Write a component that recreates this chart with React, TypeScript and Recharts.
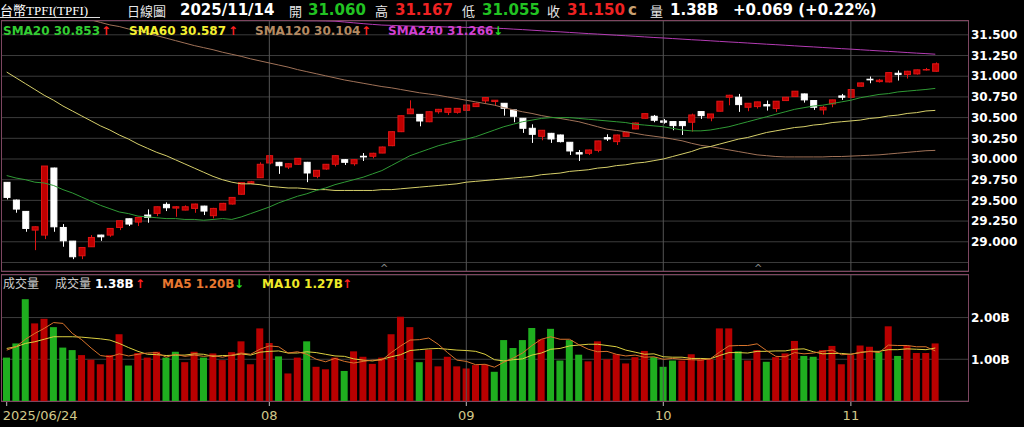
import { ComposedChart, Bar, Line, XAxis, YAxis, CartesianGrid, ReferenceLine } from 'recharts';

// daily bars 2025/06/24 .. 2025/11/14
const opens = [
  29.718, 29.504, 29.367, 29.141, 29.081, 29.891, 29.173, 29.008, 28.831, 28.94,
  29.081, 29.081, 29.173, 29.278, 29.238, 29.323, 29.343, 29.452, 29.407, 29.383,
  29.403, 29.431, 29.315, 29.383, 29.456, 29.574, 29.705, 29.774, 29.952, 29.96,
  29.903, 29.936, 29.96, 29.791, 29.879, 29.936, 29.992, 29.943, 30.033, 30.033,
  30.072, 30.161, 30.33, 30.547, 30.539, 30.45, 30.571, 30.564, 30.564, 30.588,
  30.633, 30.702, 30.694, 30.673, 30.593, 30.492, 30.371, 30.274, 30.31, 30.29,
  30.202, 30.077, 30.069, 30.105, 30.258, 30.21, 30.274, 30.363, 30.492, 30.516,
  30.46, 30.452, 30.452, 30.444, 30.573, 30.496, 30.577, 30.746, 30.746, 30.625,
  30.633, 30.657, 30.609, 30.706, 30.754, 30.786, 30.706, 30.593, 30.665, 30.762,
  30.746, 30.879, 30.964, 30.935, 30.931, 31.036, 31.02, 31.028, 31.077, 31.06,
];
const highs = [
  29.72, 29.51, 29.37, 29.185, 29.915, 29.895, 29.214, 29.01, 28.935, 29.081,
  29.085, 29.165, 29.26, 29.28, 29.3, 29.391, 29.425, 29.476, 29.431, 29.44,
  29.46, 29.435, 29.41, 29.47, 29.54, 29.714, 29.735, 29.96, 30.045, 29.965,
  29.95, 30.01, 29.965, 29.865, 29.94, 30.045, 30.0, 29.995, 30.072, 30.075,
  30.15, 30.335, 30.525, 30.709, 30.54, 30.575, 30.605, 30.615, 30.615, 30.655,
  30.68, 30.745, 30.712, 30.675, 30.595, 30.495, 30.419, 30.35, 30.315, 30.295,
  30.205, 30.109, 30.112, 30.22, 30.298, 30.295, 30.325, 30.44, 30.55, 30.532,
  30.484, 30.455, 30.455, 30.548, 30.575, 30.545, 30.7, 30.775, 30.786, 30.675,
  30.692, 30.706, 30.7, 30.75, 30.82, 30.79, 30.71, 30.641, 30.716, 30.786,
  30.84, 30.922, 30.996, 30.968, 31.048, 31.069, 31.065, 31.08, 31.1, 31.167,
];
const lows = [
  29.512, 29.351, 29.121, 28.899, 29.032, 29.121, 28.94, 28.79, 28.79, 28.94,
  29.012, 29.06, 29.141, 29.19, 29.19, 29.23, 29.31, 29.371, 29.302, 29.38,
  29.35, 29.323, 29.282, 29.38, 29.45, 29.57, 29.7, 29.77, 29.936, 29.82,
  29.879, 29.93, 29.72, 29.767, 29.87, 29.91, 29.928, 29.919, 29.976, 30.008,
  30.07, 30.155, 30.325, 30.545, 30.395, 30.445, 30.547, 30.531, 30.547, 30.585,
  30.63, 30.669, 30.645, 30.524, 30.444, 30.315, 30.194, 30.226, 30.194, 30.2,
  30.048, 29.976, 30.048, 30.081, 30.218, 30.169, 30.27, 30.36, 30.49, 30.444,
  30.427, 30.347, 30.29, 30.331, 30.484, 30.456, 30.575, 30.649, 30.569, 30.577,
  30.609, 30.585, 30.569, 30.7, 30.75, 30.681, 30.593, 30.536, 30.625, 30.714,
  30.74, 30.875, 30.915, 30.923, 30.925, 30.948, 30.972, 31.02, 31.069, 31.055,
];
const closes = [
  29.536, 29.395, 29.161, 29.181, 29.915, 29.181, 29.012, 28.819, 28.931, 29.052,
  29.06, 29.161, 29.254, 29.214, 29.294, 29.294, 29.423, 29.411, 29.423, 29.423,
  29.456, 29.371, 29.403, 29.464, 29.536, 29.714, 29.725, 29.936, 30.04, 29.919,
  29.943, 30.008, 29.831, 29.863, 29.936, 30.04, 29.96, 29.992, 30.025, 30.069,
  30.145, 30.33, 30.523, 30.604, 30.459, 30.571, 30.6, 30.612, 30.612, 30.652,
  30.673, 30.742, 30.71, 30.613, 30.516, 30.371, 30.298, 30.347, 30.242, 30.21,
  30.097, 30.06, 30.109, 30.218, 30.242, 30.29, 30.323, 30.435, 30.548, 30.468,
  30.444, 30.403, 30.403, 30.532, 30.524, 30.544, 30.698, 30.77, 30.657, 30.673,
  30.69, 30.641, 30.698, 30.746, 30.819, 30.714, 30.625, 30.625, 30.714, 30.746,
  30.839, 30.919, 30.956, 30.952, 31.044, 31.02, 31.06, 31.077, 31.081, 31.15,
];

const sma20 = [
  29.80, 29.77, 29.75, 29.72, 29.71, 29.68, 29.63, 29.59, 29.54, 29.49,
  29.44, 29.40, 29.36, 29.34, 29.31, 29.30, 29.29, 29.28, 29.28, 29.27,
  29.27, 29.26, 29.27, 29.28, 29.27, 29.30, 29.34, 29.38, 29.42, 29.47,
  29.51, 29.55, 29.58, 29.62, 29.65, 29.69, 29.72, 29.75, 29.78, 29.82,
  29.86, 29.92, 29.98, 30.04, 30.08, 30.12, 30.16, 30.19, 30.22, 30.24,
  30.27, 30.31, 30.35, 30.39, 30.42, 30.45, 30.47, 30.49, 30.50, 30.50,
  30.50, 30.49, 30.48, 30.47, 30.46, 30.45, 30.44, 30.42, 30.41, 30.40,
  30.39, 30.37, 30.35, 30.34, 30.34, 30.35, 30.37, 30.39, 30.42, 30.45,
  30.48, 30.51, 30.54, 30.57, 30.60, 30.62, 30.64, 30.65, 30.67, 30.69,
  30.71, 30.74, 30.76, 30.78, 30.79, 30.81, 30.82, 30.83, 30.84, 30.853,
];
const sma60 = [
  31.05, 30.98, 30.91, 30.84, 30.77, 30.71, 30.64, 30.58, 30.52, 30.46,
  30.40, 30.35, 30.29, 30.24, 30.18, 30.13, 30.08, 30.04, 29.99, 29.94,
  29.89, 29.84, 29.79, 29.75, 29.72, 29.70, 29.70, 29.69, 29.67, 29.66,
  29.65, 29.65, 29.64, 29.63, 29.63, 29.62, 29.62, 29.62, 29.62, 29.62,
  29.63, 29.63, 29.64, 29.65, 29.66, 29.67, 29.68, 29.69, 29.70, 29.72,
  29.73, 29.74, 29.75, 29.76, 29.77, 29.78, 29.79, 29.81, 29.82, 29.83,
  29.85, 29.86, 29.87, 29.89, 29.90, 29.92, 29.93, 29.95, 29.96, 29.98,
  30.00, 30.03, 30.06, 30.09, 30.13, 30.15, 30.18, 30.21, 30.24, 30.26,
  30.29, 30.32, 30.34, 30.36, 30.38, 30.39, 30.41, 30.42, 30.44, 30.45,
  30.46, 30.47, 30.49, 30.50, 30.52, 30.53, 30.55, 30.56, 30.58, 30.587,
];
const sma120 = [
  31.95, 31.92, 31.89, 31.86, 31.83, 31.80, 31.77, 31.74, 31.71, 31.68,
  31.65, 31.62, 31.60, 31.57, 31.55, 31.52, 31.49, 31.46, 31.43, 31.40,
  31.37, 31.345, 31.32, 31.29, 31.265, 31.24, 31.21, 31.185, 31.16, 31.135,
  31.11, 31.08, 31.055, 31.03, 31.005, 30.98, 30.955, 30.935, 30.915, 30.895,
  30.875, 30.86, 30.84, 30.82, 30.80, 30.785, 30.77, 30.75, 30.73, 30.71,
  30.69, 30.67, 30.65, 30.62, 30.595, 30.57, 30.55, 30.525, 30.505, 30.49,
  30.47, 30.45, 30.42, 30.39, 30.36, 30.345, 30.33, 30.31, 30.29, 30.275,
  30.26, 30.24, 30.22, 30.19, 30.165, 30.15, 30.13, 30.11, 30.09, 30.07,
  30.05, 30.04, 30.03, 30.025, 30.025, 30.025, 30.025, 30.025, 30.03, 30.03,
  30.035, 30.04, 30.045, 30.05, 30.06, 30.07, 30.08, 30.09, 30.10, 30.104,
];
const sma240 = [
  31.95, 31.94, 31.93, 31.92, 31.91, 31.90, 31.89, 31.88, 31.87, 31.86,
  31.85, 31.84, 31.83, 31.82, 31.81, 31.80, 31.79, 31.78, 31.77, 31.76,
  31.75, 31.74, 31.73, 31.72, 31.71, 31.70, 31.695, 31.69, 31.685, 31.68,
  31.68, 31.675, 31.67, 31.67, 31.668, 31.665, 31.655, 31.645, 31.635, 31.626,
  31.618, 31.614, 31.61, 31.606, 31.603, 31.60, 31.598, 31.595, 31.592, 31.59,
  31.587, 31.583, 31.58, 31.576, 31.569, 31.563, 31.556, 31.549, 31.542, 31.536,
  31.529, 31.522, 31.515, 31.509, 31.502, 31.495, 31.489, 31.482, 31.475, 31.468,
  31.462, 31.455, 31.448, 31.441, 31.435, 31.428, 31.421, 31.414, 31.408, 31.401,
  31.394, 31.387, 31.381, 31.374, 31.367, 31.36, 31.354, 31.347, 31.34, 31.333,
  31.327, 31.32, 31.313, 31.306, 31.30, 31.293, 31.286, 31.279, 31.273, 31.266,
];

// volume in billions, 1 = up day (red), 0 = down day (green)
const volumes = [
  1.04, 1.38, 2.44, 1.86, 1.97, 1.77, 1.28, 1.22, 1.10, 0.99,
  0.88, 1.10, 1.60, 0.85, 1.15, 1.04, 1.18, 1.04, 1.18, 0.93,
  1.18, 1.04, 1.14, 0.98, 1.17, 1.43, 0.88, 1.74, 1.39, 1.07,
  0.66, 1.04, 1.43, 0.82, 0.76, 1.04, 0.72, 1.19, 1.06, 0.89,
  1.04, 1.60, 2.02, 1.77, 0.93, 1.23, 0.83, 1.06, 0.83, 0.78,
  0.86, 0.87, 0.70, 1.46, 1.27, 1.46, 1.75, 1.48, 1.73, 0.97,
  1.46, 1.11, 0.95, 1.43, 1.00, 1.12, 0.90, 1.05, 1.20, 1.05,
  0.82, 0.97, 0.97, 1.12, 1.00, 1.00, 1.74, 1.74, 1.19, 0.97,
  1.22, 0.94, 1.05, 1.14, 1.44, 1.08, 1.06, 1.22, 1.32, 0.88,
  1.10, 1.33, 1.30, 1.17, 1.79, 1.08, 1.32, 1.15, 1.15, 1.38,
];
const volUp = [
  0, 0, 0, 1, 1, 0, 0, 0, 1, 1,
  1, 1, 1, 0, 1, 1, 1, 0, 0, 1,
  1, 0, 1, 1, 1, 1, 1, 1, 1, 0,
  1, 1, 0, 1, 1, 1, 0, 1, 1, 1,
  1, 1, 1, 1, 0, 1, 1, 1, 1, 1,
  1, 1, 0, 0, 0, 0, 0, 1, 0, 0,
  0, 0, 1, 1, 1, 1, 1, 1, 1, 0,
  0, 0, 1, 1, 1, 1, 1, 1, 0, 1,
  1, 0, 1, 1, 1, 0, 0, 1, 1, 1,
  1, 1, 1, 0, 1, 0, 1, 1, 1, 1,
];
const volMa5 = [
  1.22, 1.30, 1.48, 1.62, 1.74, 1.88, 1.86, 1.62, 1.47, 1.27,
  1.09, 1.06, 1.13, 1.08, 1.12, 1.15, 1.16, 1.05, 1.12, 1.07,
  1.10, 1.07, 1.09, 1.05, 1.10, 1.15, 1.12, 1.24, 1.32, 1.30,
  1.15, 1.18, 1.12, 1.00, 0.94, 1.02, 0.95, 0.91, 0.95, 0.98,
  0.98, 1.16, 1.32, 1.46, 1.47, 1.51, 1.36, 1.16, 0.98, 0.95,
  0.87, 0.88, 0.81, 0.93, 1.03, 1.15, 1.33, 1.48, 1.54, 1.48,
  1.48, 1.35, 1.24, 1.18, 1.19, 1.12, 1.08, 1.10, 1.05, 1.06,
  1.00, 1.02, 1.00, 0.99, 0.98, 1.01, 1.17, 1.32, 1.33, 1.33,
  1.37, 1.21, 1.07, 1.06, 1.16, 1.13, 1.15, 1.19, 1.22, 1.11,
  1.12, 1.17, 1.19, 1.16, 1.34, 1.33, 1.33, 1.30, 1.30, 1.20,
];
const volMa10 = [
  1.26, 1.30, 1.38, 1.42, 1.48, 1.54, 1.54, 1.54, 1.53, 1.51,
  1.49, 1.46, 1.38, 1.28, 1.19, 1.12, 1.11, 1.09, 1.10, 1.10,
  1.13, 1.12, 1.07, 1.09, 1.09, 1.13, 1.10, 1.17, 1.19, 1.20,
  1.15, 1.15, 1.18, 1.16, 1.12, 1.08, 1.07, 1.01, 0.98, 0.96,
  1.00, 1.06, 1.11, 1.21, 1.23, 1.25, 1.26, 1.24, 1.22, 1.21,
  1.19, 1.12, 0.99, 0.96, 0.99, 1.01, 1.10, 1.15, 1.24, 1.26,
  1.32, 1.34, 1.36, 1.36, 1.33, 1.30, 1.22, 1.17, 1.12, 1.13,
  1.06, 1.05, 1.05, 1.02, 1.02, 1.01, 1.09, 1.16, 1.16, 1.15,
  1.19, 1.19, 1.20, 1.20, 1.24, 1.25, 1.18, 1.13, 1.14, 1.14,
  1.12, 1.16, 1.19, 1.19, 1.23, 1.23, 1.25, 1.24, 1.23, 1.27,
];

const monthTicks = [0, 28, 49, 70, 90];
const monthLabels = ['2025/06/24', '08', '09', '10', '11'];
const priceTicks = [28.75, 29, 29.25, 29.5, 29.75, 30, 30.25, 30.5, 30.75, 31, 31.25, 31.5];
const volTicks = [1, 2];

const data = closes.map((c, i) => ({
  idx: i,
  range: [lows[i], highs[i]],
  open: opens[i],
  high: highs[i],
  low: lows[i],
  close: c,
  vol: volumes[i],
  up: volUp[i],
  sma20: sma20[i],
  sma60: sma60[i],
  sma120: sma120[i],
  sma240: sma240[i],
  ma5: volMa5[i],
  ma10: volMa10[i],
}));

const NUM_FONT = '"DejaVu Sans", Verdana, sans-serif';
const CJK_FONT = '"Noto Sans CJK TC", "DejaVu Sans", sans-serif';
const GRID = '#3c3c3c';
const BORDER = '#7d4660';

function Candle(props: any) {
  const { x, y, width, height, payload } = props;
  const { open, close, high, low } = payload;
  const span = high - low;
  const py = (v: number) => (span > 0 ? y + ((high - v) / span) * height : y);
  const up = close >= open;
  const top = py(Math.max(open, close));
  const bot = py(Math.min(open, close));
  const cx = Math.round(x + width / 2) + 0.5;
  const fill = up ? '#bf0000' : '#ffffff';
  const edge = up ? '#e01414' : '#ffffff';
  return (
    <g>
      <line x1={cx} x2={cx} y1={y} y2={y + height} stroke={edge} strokeWidth={1} />
      <rect x={x} y={top} width={width} height={Math.max(0.5, bot - top)} fill={fill} stroke={edge} strokeWidth={1} />
    </g>
  );
}

function VolBar(props: any) {
  const { x, y, width, height, payload } = props;
  return <rect x={x} y={y} width={width} height={height} fill={payload.up ? '#b80000' : '#1fae1f'} />;
}

function DateTick(props: any) {
  const { x, y, payload } = props;
  const k = monthTicks.indexOf(payload.value);
  const first = k === 0;
  return (
    <text x={first ? x - 4 : x} y={y + 12} textAnchor={first ? 'start' : 'middle'} fill="#d2c98a" fontSize={13} fontFamily={NUM_FONT}>
      {monthLabels[k]}
    </text>
  );
}

const axisTick = { fill: '#ffffff', fontSize: 12, fontWeight: 'bold', fontFamily: NUM_FONT };

export default function App() {
  return (
    <div style={{ position: 'relative', width: 1024, height: 427, background: '#000', overflow: 'hidden' }}>
      <style>{'body{margin:0;background:#000}'}</style>

      {/* price panel */}
      <div style={{ position: 'absolute', left: 0, top: 0 }}>
        <ComposedChart width={1024} height={272} data={data} margin={{ top: 21, right: 0, bottom: 1, left: 2 }}>
          <CartesianGrid stroke={GRID} vertical={false} />
          <XAxis dataKey="idx" hide padding={{ left: 0, right: 28 }} />
          <YAxis
            orientation="right"
            width={56}
            domain={[28.647, 31.667]}
            allowDataOverflow
            ticks={priceTicks}
            interval={0}
            axisLine={false}
            tickLine={false}
            tickSize={0}
            tickMargin={3}
            tick={axisTick}
            tickFormatter={(v: number) => (v < 28.9 ? '' : v.toFixed(3))}
          />
          {monthTicks.slice(1).map((t) => (
            <ReferenceLine key={t} x={t} stroke="#555" />
          ))}
          <Line dataKey="sma240" stroke="#b43cb4" dot={false} strokeWidth={1} isAnimationActive={false} />
          <Line dataKey="sma120" stroke="#a07258" dot={false} strokeWidth={1} isAnimationActive={false} />
          <Line dataKey="sma60" stroke="#d6cf6a" dot={false} strokeWidth={1} isAnimationActive={false} />
          <Line dataKey="sma20" stroke="#2f9a35" dot={false} strokeWidth={1} isAnimationActive={false} />
          <Bar dataKey="range" barSize={6} shape={(p: any) => <Candle {...p} />} isAnimationActive={false} />
        </ComposedChart>
      </div>

      {/* volume panel */}
      <div style={{ position: 'absolute', left: 0, top: 0 }}>
        <ComposedChart width={1024} height={427} data={data} margin={{ top: 275, right: 0, bottom: 0, left: 2 }}>
          <CartesianGrid stroke={GRID} vertical={false} />
          <XAxis
            dataKey="idx"
            padding={{ left: 0, right: 28 }}
            ticks={monthTicks}
            interval={0}
            height={26}
            axisLine={false}
            tickLine={{ stroke: '#bbbbbb' }}
            tickSize={5}
            tick={<DateTick />}
          />
          <YAxis
            orientation="right"
            width={56}
            domain={[0, 3.02]}
            allowDataOverflow
            ticks={volTicks}
            interval={0}
            axisLine={false}
            tickLine={false}
            tickSize={0}
            tickMargin={3}
            tick={axisTick}
            tickFormatter={(v: number) => `${v.toFixed(2)}B`}
          />
          {monthTicks.slice(1).map((t) => (
            <ReferenceLine key={t} x={t} stroke="#555" />
          ))}
          <Bar dataKey="vol" barSize={7} shape={(p: any) => <VolBar {...p} />} isAnimationActive={false} />
          <Line dataKey="ma10" stroke="#dcd040" dot={false} strokeWidth={1} isAnimationActive={false} />
          <Line dataKey="ma5" stroke="#d8742c" dot={false} strokeWidth={1} isAnimationActive={false} />
        </ComposedChart>
      </div>

      {/* frames, header and legends */}
      <svg width={1024} height={427} style={{ position: 'absolute', left: 0, top: 0, pointerEvents: 'none' }}>
        <rect x={1.5} y={20.5} width={967} height={251} fill="none" stroke={BORDER} />
        <rect x={1.5} y={274.5} width={967} height={127} fill="none" stroke={BORDER} />

        <text x={0} y={15} fontSize={13} fill="#ffffff" fontFamily={'"Liberation Serif", "Noto Sans CJK TC", serif'}>台幣TPFI(TPFI)</text>
        <line x1={0} x2={100} y1={17.5} y2={17.5} stroke="#dddddd" />
        <text x={127} y={15.5} fontSize={13} fill="#e6e6e6" fontFamily={CJK_FONT}>日線圖</text>
        <g fontFamily={NUM_FONT} fontSize={15} fontWeight="bold">
          <text x={180} y={15} fill="#ffffff">2025/11/14</text>
          <text x={308} y={15} fill="#22c322">31.060</text>
          <text x={395} y={15} fill="#ee2222">31.167</text>
          <text x={482} y={15} fill="#22c322">31.055</text>
          <text x={567} y={15} fill="#ee2222">31.150</text>
          <text x={628} y={15} fill="#c8a070">c</text>
          <text x={670} y={15} fill="#ffffff">1.38B</text>
          <text x={733} y={15} fill="#ffffff">+0.069 (+0.22%)</text>
        </g>
        <g fontFamily={CJK_FONT} fontSize={13} fill="#e6e6e6">
          <text x={289} y={15.5}>開</text>
          <text x={375} y={15.5}>高</text>
          <text x={462} y={15.5}>低</text>
          <text x={547} y={15.5}>收</text>
          <text x={650} y={15.5}>量</text>
        </g>

        <g fontFamily={NUM_FONT} fontSize={12} fontWeight="bold">
          <text x={3} y={35} fill="#33cc33">SMA20 30.853</text>
          <text x={101} y={35} fill="#ff2020">↑</text>
          <text x={129} y={35} fill="#f4f030">SMA60 30.587</text>
          <text x={228} y={35} fill="#ff2020">↑</text>
          <text x={255} y={35} fill="#b48a62">SMA120 30.104</text>
          <text x={361} y={35} fill="#ff2020">↑</text>
          <text x={388} y={35} fill="#d040d0">SMA240 31.266</text>
          <text x={493} y={35} fill="#22dd22">↓</text>
        </g>

        <g fontFamily={CJK_FONT} fontSize={12} fill="#cccccc">
          <text x={3} y={288}>成交量</text>
          <text x={55} y={288}>成交量</text>
        </g>
        <g fontFamily={NUM_FONT} fontSize={12} fontWeight="bold">
          <text x={95} y={288} fill="#ffffff">1.38B</text>
          <text x={135} y={288} fill="#ff2020">↑</text>
          <text x={162} y={288} fill="#e87830">MA5 1.20B</text>
          <text x={234} y={288} fill="#22dd22">↓</text>
          <text x={262} y={288} fill="#f0ea28">MA10 1.27B</text>
          <text x={342} y={288} fill="#ff2020">↑</text>
        </g>

        <g fontFamily={NUM_FONT} fontSize={10} fill="#888888">
          <text x={380} y={272}>^</text>
          <text x={754} y={272}>^</text>
        </g>
      </svg>
    </div>
  );
}
